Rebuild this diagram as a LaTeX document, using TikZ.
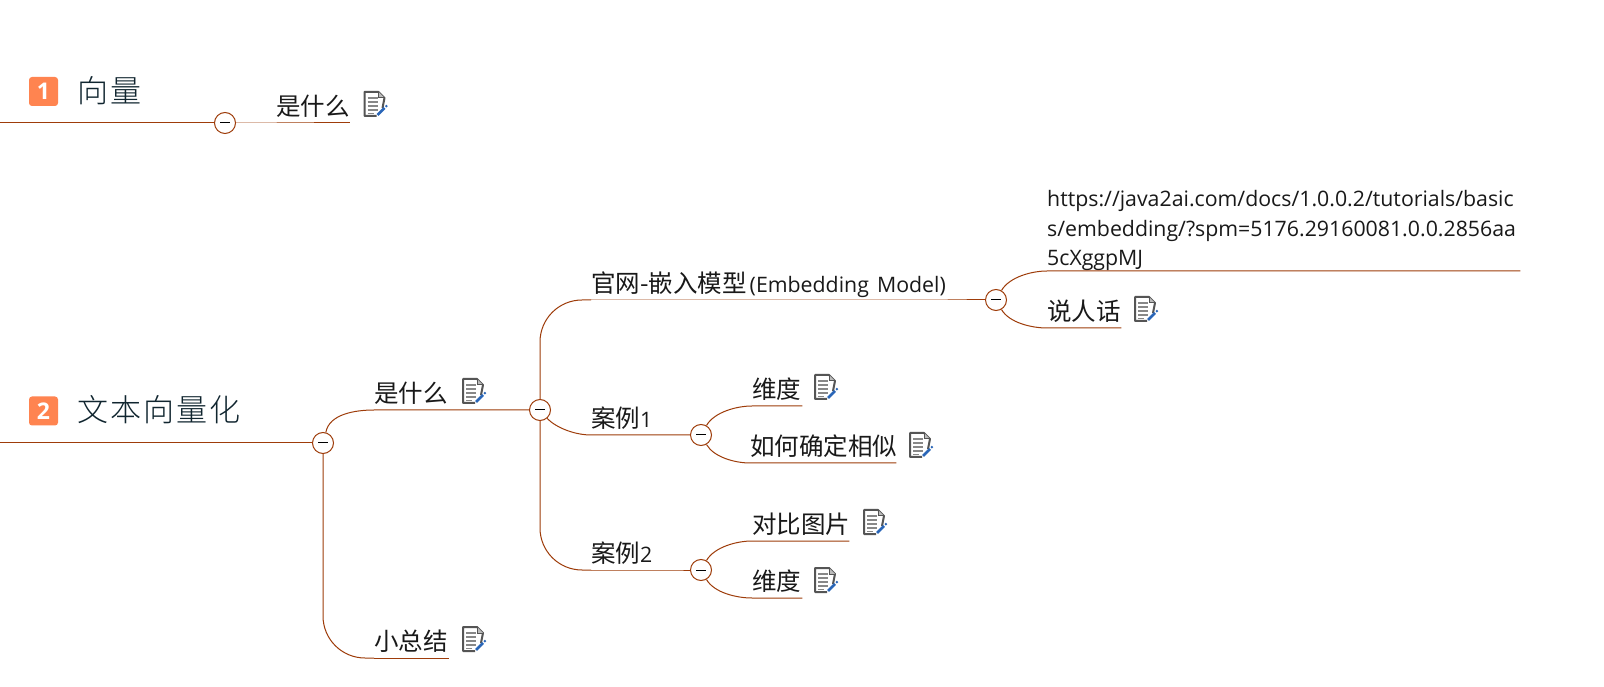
\documentclass[tikz,border=0pt]{standalone}
\usepackage{fontspec}
\setmainfont{Open Sans}
\newfontfamily\cjk{Noto Sans CJK SC}
\newfontfamily\cjklight{Noto Sans CJK SC Light}
\definecolor{linec}{HTML}{9E3C0A}
\definecolor{badgec}{HTML}{FF8450}
\definecolor{titlec}{HTML}{10252F}
\definecolor{iconc}{HTML}{555555}
\definecolor{penc}{HTML}{2A66B8}
\tikzset{
  conn/.style={draw=linec,line width=1pt},
  collapse/.style={circle,draw=linec,fill=white,line width=1pt,minimum size=21pt,inner sep=0pt,
    path picture={\draw[black,line width=1pt] ([xshift=-5pt]path picture bounding box.center) -- ([xshift=5pt]path picture bounding box.center);}},
  topic/.style={anchor=south west,inner sep=0pt,text height=19pt,text depth=7pt,align=left,text=black!90,font=\fontsize{24.5}{24.5}\selectfont\cjk},
  badge/.style={rounded corners=3pt,fill=badgec,text=white,inner sep=0pt,minimum size=29pt,font=\fontsize{23}{23}\selectfont\bfseries},
  maintitle/.style={anchor=west,inner sep=0pt,text=titlec,font=\fontsize{31}{31}\selectfont\cjklight},
  notepic/.pic={
    \draw[iconc,line width=2pt,line join=round] (8,-4) -- (10,6) -- (4,12) -- (-10,12) -- (-10,-12) -- (2,-12);
    \draw[iconc,line width=1pt,fill=iconc!40] (4,12) -- (4,6) -- (10,6);
    \foreach \yy in {6,2,-2,-6}{\draw[iconc!70,line width=1.6pt] (-7,\yy) -- (3,\yy);}
    \draw[iconc!70,line width=1.6pt] (-7,-9.5) -- (-1,-9.5);
    \draw[penc,line width=2.6pt] (3,-11) -- (10,-4);
    \draw[penc,line width=2pt] (11.2,-2.8) -- (12.6,-1.4);
  }
}
\begin{document}
\begin{tikzpicture}[x=1pt,y=1pt]
\useasboundingbox[fill=white] (0,0) rectangle (1604,686);
% first branch
\coordinate (edgeA) at (0,685-122);
\node[collapse] (cA) at (225,685-122) {};
\node[badge] (bA) at (43.5,686-91.5) {1};
\node[maintitle] (tA) at (77,686-91) {向\hspace{2pt}量};
\node[topic,text width=74pt] (nA) at (276,685-122) {是什么};
\pic at (374.5,686-104) {notepic};
\draw[conn] (edgeA) -- (cA.west);
\draw[conn] (cA.east) -- (nA.south west) -- (nA.south east);
% second branch
\coordinate (edgeB) at (0,685-442);
\node[collapse] (cB) at (323,685-442) {};
\node[badge] (bB) at (43.5,686-411) {2};
\node[maintitle] (tB) at (77,686-410) {文\hspace{2pt}本\hspace{2pt}向\hspace{2pt}量\hspace{2pt}化};
\draw[conn] (edgeB) -- (cB.west);
\node[topic,text width=75pt] (nW) at (374,685-409) {是什么};
\pic at (473,686-391) {notepic};
\node[collapse] (cW) at (540,685-409) {};
\draw[conn] (cB.75) to[out=80,in=180,looseness=0.9] (nW.south west) -- (nW.south east) -- (cW.west);
\node[topic,text width=75pt] (nS) at (374,685-657) {小总结};
\pic at (473,686-639) {notepic};
\draw[conn,rounded corners=42pt] (cB.south) |- (nS.south west);
\draw[conn] (nS.south west) -- (nS.south east);
% level 3
\node[topic,text width=356pt] (nG) at (591,685-299) {\mbox{官网-嵌入模型\hspace{3pt}{\rmfamily\fontsize{21.3}{21.3}\selectfont(Embedding Model)}}};
\node[collapse] (cG) at (996,685-299) {};
\draw[conn,rounded corners=42pt] (cW.north) |- (nG.south west);
\draw[conn] (nG.south west) -- (nG.south east) -- (cG.west);
\node[topic,text width=86pt] (nC) at (591,685-434) {案例{\rmfamily\fontsize{21.3}{21.3}\selectfont 1}};
\node[collapse] (cC) at (701,685-434) {};
\draw[conn] (cW.-50) to[out=-45,in=180,looseness=0.8] (nC.south west) -- (nC.south east) -- (cC.west);
\node[topic,text width=86pt] (nD) at (591,685-569) {案例{\rmfamily\fontsize{21.3}{21.3}\selectfont 2}};
\node[collapse] (cD) at (701,685-569) {};
\draw[conn,rounded corners=42pt] (cW.south) |- (nD.south west);
\draw[conn] (nD.south west) -- (nD.south east) -- (cD.west);
% level 4
\node[anchor=south west,inner sep=0pt,text width=473pt,align=left,text=black!90,font=\fontsize{21.3}{29.5}\selectfont] (nU) at (1047,685-270) {https://java2ai.com/docs/1.0.0.2/tutorials/basic\\s/embedding/?spm=5176.29160081.0.0.2856aa\\5cXggpMJ};
\node[topic,text width=74pt] (nT) at (1047,685-327) {说人话};
\pic at (1145,686-309) {notepic};
\draw[conn] (cG.60) to[out=60,in=180,looseness=0.8] (nU.south west) -- (nU.south east);
\draw[conn] (cG.-60) to[out=-60,in=180,looseness=0.8] (nT.south west) -- (nT.south east);
\node[topic,text width=50pt] (nE) at (752,685-405) {维度};
\pic at (825,686-387) {notepic};
\node[topic,text width=146pt] (nF) at (750,685-462) {如何确定相似};
\pic at (920,686-445) {notepic};
\draw[conn] (cC.60) to[out=60,in=180,looseness=0.8] (nE.south west) -- (nE.south east);
\draw[conn] (cC.-60) to[out=-60,in=180,looseness=0.8] (nF.south west) -- (nF.south east);
\node[topic,text width=97pt] (nH) at (752,685-540) {对比图片};
\pic at (874,686-522) {notepic};
\node[topic,text width=50pt] (nI) at (752,685-597) {维度};
\pic at (825,686-580) {notepic};
\draw[conn] (cD.60) to[out=60,in=180,looseness=0.8] (nH.south west) -- (nH.south east);
\draw[conn] (cD.-60) to[out=-60,in=180,looseness=0.8] (nI.south west) -- (nI.south east);
\end{tikzpicture}
\end{document}
